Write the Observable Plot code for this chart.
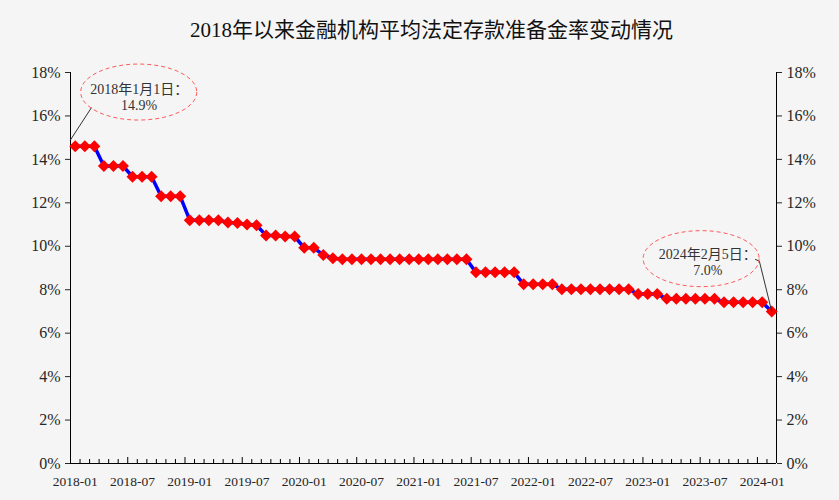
<!DOCTYPE html>
<html><head><meta charset="utf-8">
<script src="https://cdn.jsdelivr.net/npm/d3@7"></script>
<script src="https://cdn.jsdelivr.net/npm/@observablehq/plot@0.6"></script>
<style>
body{margin:0;background:#f5f5f5;width:839px;height:500px;overflow:hidden;}
#title{height:21px;padding:20px 0 9px 24px;line-height:21px;text-align:center;font-family:"Liberation Serif","Noto Sans CJK SC",serif;font-size:21px;color:#111;}
</style></head><body>
<div id="title"></div>
<div id="chart"></div>
<script>
const title = "2018年以来金融机构平均法定存款准备金率变动情况";
const months = [
 "2018-01","2018-02","2018-03","2018-04","2018-05","2018-06","2018-07","2018-08","2018-09","2018-10","2018-11","2018-12",
 "2019-01","2019-02","2019-03","2019-04","2019-05","2019-06","2019-07","2019-08","2019-09","2019-10","2019-11","2019-12",
 "2020-01","2020-02","2020-03","2020-04","2020-05","2020-06","2020-07","2020-08","2020-09","2020-10","2020-11","2020-12",
 "2021-01","2021-02","2021-03","2021-04","2021-05","2021-06","2021-07","2021-08","2021-09","2021-10","2021-11","2021-12",
 "2022-01","2022-02","2022-03","2022-04","2022-05","2022-06","2022-07","2022-08","2022-09","2022-10","2022-11","2022-12",
 "2023-01","2023-02","2023-03","2023-04","2023-05","2023-06","2023-07","2023-08","2023-09","2023-10","2023-11","2023-12",
 "2024-01","2024-02"];
const rates = [
 14.6,14.6,14.6,13.7,13.7,13.7,13.2,13.2,13.2,12.3,12.3,12.3,
 11.2,11.2,11.2,11.2,11.1,11.07,11.0,10.97,10.5,10.5,10.45,10.45,
 9.93,9.93,9.6,9.45,9.4,9.4,9.4,9.4,9.4,9.4,9.4,9.4,
 9.4,9.4,9.4,9.4,9.4,9.4,8.8,8.8,8.8,8.8,8.8,8.25,
 8.25,8.25,8.25,8.02,8.02,8.02,8.02,8.02,8.02,8.02,8.02,7.8,
 7.8,7.8,7.58,7.58,7.58,7.58,7.58,7.58,7.42,7.42,7.42,7.42,
 7.42,7.0];
const xTickLabels = ["2018-01","2018-07","2019-01","2019-07","2020-01","2020-07","2021-01","2021-07","2022-01","2022-07","2023-01","2023-07","2024-01"];
const yTicks = [0,2,4,6,8,10,12,14,16,18];

// annotations (data units: x = month index, y = %)
const noteLabels = ["2018年1月1日：\n14.9%", "2024年2月5日：\n7.0%"];
const noteTextX = [7.2, 66.8];
const noteTextY = [16.9, 9.3];
const noteEllipseX = [7.15, 66.1];
const noteEllipseY = [17.1, 9.43];
const leader1 = [[2.18,16.37],[0,14.9]];
const leader2 = [[71.8,9.39],[72.2,9.32],[73.5,7.0]];

document.getElementById("title").textContent = title;

const rows = months.map((m,i)=>({i, m, v: rates[i]}));
const notes = noteLabels.map((t,k)=>({t, tx: noteTextX[k], ty: noteTextY[k], ex: noteEllipseX[k], ey: noteEllipseY[k]}));
const nMonths = months.length;
const allTicks = d3.range(nMonths + 1);
const majorTicks = allTicks.filter(d => d % 6 === 0);
const minorTicks = allTicks.filter(d => d % 6 !== 0);
const labelPos = xTickLabels.map(l => months.indexOf(l) + 0.5);

function ellipseSymbol(rx, ry){
  const k = 0.5523;
  return {draw(ctx){
    ctx.moveTo(rx,0);
    ctx.bezierCurveTo(rx, ry*k, rx*k, ry, 0, ry);
    ctx.bezierCurveTo(-rx*k, ry, -rx, ry*k, -rx, 0);
    ctx.bezierCurveTo(-rx, -ry*k, -rx*k, -ry, 0, -ry);
    ctx.bezierCurveTo(rx*k, -ry, rx, -ry*k, rx, 0);
    ctx.closePath();
  }};
}

const H = 450, mT = 22, mB = 37;
const frameH = H - mT - mB;

const plot = Plot.plot({
  width: 839, height: H,
  marginLeft: 70, marginRight: 63, marginTop: mT, marginBottom: mB,
  style: {background: "transparent", fontFamily: "'Liberation Serif','Noto Sans CJK SC',serif", color: "#262626"},
  x: {type: "linear", domain: [0, nMonths]},
  y: {domain: [0, 18]},
  marks: [
    Plot.axisY({anchor: "left", ticks: yTicks, tickFormat: d => d + "%", tickSize: 5, tickPadding: 5, fontSize: 16, label: null}),
    Plot.axisY({anchor: "right", ticks: yTicks, tickFormat: d => d + "%", tickSize: 5, tickPadding: 5, fontSize: 16, label: null}),
    Plot.axisX({ticks: labelPos, tickFormat: d => months[Math.round(d - 0.5)], tickSize: 0, tickPadding: 13, fontSize: 13.5, label: null}),
    Plot.ruleX(majorTicks, {x: d => d, insetTop: frameH - 6, stroke: "#000"}),
    Plot.ruleX(minorTicks, {x: d => d, insetTop: frameH - 4, stroke: "#000"}),
    Plot.ruleX([0, nMonths], {stroke: "#000"}),
    Plot.ruleY([0], {stroke: "#000"}),
    Plot.line(rows, {x: d => d.i + 0.5, y: "v", stroke: "#0000ff", strokeWidth: 3.5}),
    Plot.dot(rows, {x: d => d.i + 0.5, y: "v", symbol: "diamond2", r: 5.4, fill: "#ff0000", stroke: "none"}),
    Plot.line(leader1, {x: d => d[0], y: d => d[1], stroke: "#333", strokeWidth: 1}),
    Plot.line(leader2, {x: d => d[0], y: d => d[1], stroke: "#333", strokeWidth: 1}),
    Plot.dot(notes, {x: "ex", y: "ey", symbol: ellipseSymbol(58, 28), fill: "none", stroke: "#ff5a5a", strokeWidth: 1, strokeDasharray: "4,3"}),
    Plot.text(notes, {x: "tx", y: "ty", text: "t", fontSize: 14, fill: "#333", lineHeight: 1.15, lineAnchor: "middle"})
  ]
});
document.getElementById("chart").appendChild(plot);
</script>
</body></html>
